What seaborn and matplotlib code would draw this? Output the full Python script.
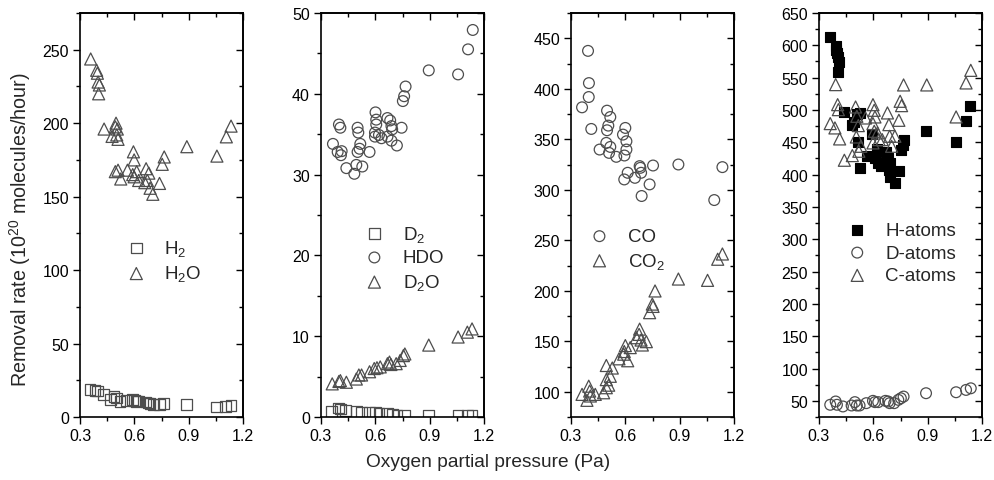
import numpy as np
import pandas as pd
import matplotlib
matplotlib.use("Agg")
import matplotlib.pyplot as plt
from matplotlib.ticker import MultipleLocator, NullFormatter
import seaborn as sns

# ---------------- data ----------------
# Panel 1
h2o_x = [0.359, 0.392, 0.396, 0.40, 0.407, 0.403, 0.433, 0.499, 0.495, 0.506, 0.477, 0.503, 0.51,
         0.495, 0.51, 0.525, 0.562, 0.595, 0.599, 0.591, 0.599, 0.613, 0.624, 0.665, 0.68, 0.672,
         0.658, 0.687, 0.702, 0.739, 0.765, 0.754, 0.89, 1.056, 1.108, 1.134]
h2o_y = [243.7, 236, 234, 228, 226, 220, 196, 200, 197.5, 196, 191, 192, 189,
         167, 168, 162, 168, 180.5, 175, 165, 163.5, 167, 161, 169, 166, 161,
         159.5, 155.7, 151.6, 159, 177, 172, 184, 177.6, 190.7, 198]
h2_x = [0.355, 0.383, 0.396, 0.43, 0.47, 0.488, 0.5, 0.521, 0.555, 0.59, 0.602, 0.613, 0.624,
        0.665, 0.676, 0.687, 0.706, 0.739, 0.761, 0.89, 1.053, 1.104, 1.134]
h2_y = [18.6, 18.2, 17.7, 15.5, 11.8, 14, 13, 10.7, 11.4, 11.8, 11.4, 10.7, 10.9,
        10.2, 9.5, 9.1, 8.4, 8.6, 9.1, 8.6, 6.8, 7.3, 8.0]

# Panel 2
hdo_x = [0.366, 0.399, 0.407, 0.392, 0.414, 0.41, 0.44, 0.484, 0.495, 0.528, 0.502, 0.506, 0.517,
         0.513, 0.502, 0.568, 0.601, 0.605, 0.605, 0.598, 0.598, 0.62, 0.634, 0.667, 0.682, 0.689,
         0.693, 0.667, 0.689, 0.719, 0.745, 0.752, 0.759, 0.767, 0.895, 1.057, 1.112, 1.138]
hdo_y = [33.8, 36.2, 35.8, 32.8, 32.9, 32.4, 30.8, 30.1, 31.2, 31.0, 35.8, 35.2, 33.8,
         33.2, 32.8, 32.8, 37.7, 36.8, 36.2, 35.2, 34.7, 34.9, 34.5, 37.0, 36.7, 36.0,
         35.6, 34.7, 34.2, 33.6, 35.8, 39.1, 39.7, 40.9, 42.9, 42.4, 45.5, 47.9]
d2o_x = [0.362, 0.399, 0.407, 0.44, 0.495, 0.509, 0.524, 0.568, 0.594, 0.609, 0.627, 0.667, 0.678,
         0.686, 0.715, 0.737, 0.755, 0.763, 0.895, 1.057, 1.108, 1.134]
d2o_y = [4.1, 4.4, 4.5, 4.3, 4.7, 5.2, 5.2, 5.6, 6.0, 6.1, 6.2, 6.6, 6.8,
         6.5, 6.6, 7.0, 7.6, 7.8, 8.9, 9.9, 10.5, 10.9]
d2_x = [0.359, 0.396, 0.407, 0.436, 0.495, 0.524, 0.568, 0.601, 0.62, 0.667, 0.693, 0.719, 0.759,
        0.895, 1.057, 1.108, 1.134]
d2_y = [0.7, 1.1, 1.0, 0.8, 0.7, 0.6, 0.6, 0.6, 0.5, 0.4, 0.3, 0.2, 0.2,
        0.2, 0.2, 0.2, 0.2]

# Panel 3
co_x = [0.394, 0.399, 0.398, 0.361, 0.412, 0.458, 0.499, 0.517, 0.506, 0.499, 0.495, 0.517, 0.51,
        0.55, 0.60, 0.587, 0.606, 0.606, 0.595, 0.613, 0.594, 0.653, 0.679, 0.687, 0.683, 0.69,
        0.734, 0.753, 0.893, 1.091, 1.136]
co_y = [437.5, 405.6, 391.8, 381.6, 360.2, 339.8, 378.3, 372, 363.5, 358.9, 346.4, 342.4, 336.5,
        332.6, 361.2, 354.6, 348, 339.8, 333.9, 316.8, 310.2, 311.8, 323.4, 316.8, 321.7, 293.8,
        305.3, 324, 325, 289.8, 322.4]
co2_x = [0.361, 0.398, 0.388, 0.407, 0.403, 0.434, 0.48, 0.495, 0.508, 0.495, 0.517, 0.495, 0.528,
         0.565, 0.613, 0.591, 0.60, 0.594, 0.627, 0.661, 0.679, 0.676, 0.687, 0.694, 0.716, 0.734,
         0.749, 0.753, 0.764, 0.893, 1.054, 1.11, 1.136]
co2_y = [97.4, 105.5, 91.5, 95.8, 100.7, 97.4, 99, 104, 106.5, 112, 115.3, 126, 123.5,
         132.6, 130.7, 137.2, 145.7, 139.8, 143.7, 153.5, 162, 156.8, 151.2, 146.3, 149.6, 178.3,
         186.8, 184.5, 199.8, 211.6, 210.3, 231.2, 236.4]

# Panel 4
hat_x = [0.362, 0.392, 0.396, 0.399, 0.403, 0.41, 0.407, 0.436, 0.48, 0.495, 0.509, 0.524, 0.517,
         0.528, 0.564, 0.609, 0.594, 0.62, 0.627, 0.645, 0.671, 0.682, 0.69, 0.686, 0.693, 0.717,
         0.741, 0.754, 0.763, 0.767, 0.891, 1.057, 1.112, 1.134]
hat_y = [612.4, 598.5, 593.3, 588.1, 582, 573.7, 558.2, 497, 477.3, 481, 493.8, 495.4, 450,
         410.3, 428.4, 425.8, 463.4, 439.7, 418, 412.9, 434.5, 425.8, 418, 406.7, 396.4, 387.1,
         405.2, 438.7, 446.4, 453.1, 467, 450, 483.5, 505.7]
dat_x = [0.362, 0.392, 0.399, 0.432, 0.48, 0.498, 0.509, 0.524, 0.561, 0.598, 0.609, 0.627, 0.667,
         0.682, 0.69, 0.715, 0.738, 0.752, 0.767, 0.891, 1.057, 1.112, 1.138]
dat_y = [43.9, 49, 43.9, 41.3, 42.8, 48, 42.8, 42.8, 46.4, 50, 48, 48, 50,
         49, 46.4, 46.4, 51.5, 54, 56.6, 61.8, 63.3, 66.9, 69.4]
cat_x = [0.362, 0.388, 0.392, 0.403, 0.407, 0.414, 0.44, 0.484, 0.502, 0.509, 0.517, 0.506, 0.531,
         0.52, 0.557, 0.598, 0.605, 0.609, 0.598, 0.605, 0.598, 0.623, 0.631, 0.649, 0.678, 0.686,
         0.69, 0.701, 0.719, 0.741, 0.748, 0.756, 0.767, 0.895, 1.057, 1.112, 1.138]
cat_y = [478.9, 472.2, 539.2, 508.2, 500.5, 455.2, 422.2, 429.4, 504.6, 490.2, 475.8, 458.2, 443.8,
         436.1, 487.6, 508.2, 499.5, 489.2, 478.9, 467, 449, 464.4, 454.1, 454.1, 495.4, 477.3,
         459.3, 443.8, 459.3, 484, 513.4, 506.7, 538.7, 538.7, 489.2, 541.8, 561.3]

x_ticks = [0.3, 0.6, 0.9, 1.2]
ylims = [(0, 275), (0, 50), (75, 475), (25, 650)]
y_major = [50, 10, 50, 50]
y_minor = [25, 5, 25, 25]

# ---------------- style ----------------
sns.set_theme(style="ticks")
plt.rcParams["font.family"] = ["Liberation Sans", "DejaVu Sans"]
plt.rcParams["mathtext.fontset"] = "custom"
plt.rcParams["mathtext.rm"] = "Liberation Sans"
plt.rcParams["mathtext.it"] = "Liberation Sans"
plt.rcParams["mathtext.bf"] = "Liberation Sans"

EDGE = "#4d4d4d"
fig = plt.figure(figsize=(9.94, 4.81), dpi=100)

lefts = [80, 321, 571, 819]
W, BOT, TOP = 163, 418, 14
axes = []
for l in lefts:
    ax = fig.add_axes([l / 994, 1 - BOT / 481, W / 994, (BOT - TOP) / 481])
    axes.append(ax)

def scat(ax, x, y, marker, label, filled=False, s=60):
    df = pd.DataFrame({"x": x, "y": y})
    if filled:
        sns.scatterplot(data=df, x="x", y="y", marker=marker, s=s, color="black",
                        edgecolor="black", linewidth=0.8, ax=ax, label=label)
    else:
        sns.scatterplot(data=df, x="x", y="y", marker=marker, s=s, facecolor="none",
                        edgecolor=EDGE, linewidth=0.9, ax=ax, label=label)

scat(axes[0], h2_x, h2_y, "s", "H$_2$")
scat(axes[0], h2o_x, h2o_y, "^", "H$_2$O", s=75)

scat(axes[1], d2_x, d2_y, "s", "D$_2$")
scat(axes[1], hdo_x, hdo_y, "o", "HDO")
scat(axes[1], d2o_x, d2o_y, "^", "D$_2$O", s=75)

scat(axes[2], co_x, co_y, "o", "CO")
scat(axes[2], co2_x, co2_y, "^", "CO$_2$", s=75)

scat(axes[3], hat_x, hat_y, "s", "H-atoms", filled=True)
scat(axes[3], dat_x, dat_y, "o", "D-atoms")
scat(axes[3], cat_x, cat_y, "^", "C-atoms", s=75)

leg_pos = [(0.288, 0.387), (0.27, 0.394), (0.117, 0.415), (0.177, 0.406)]

def style_ticks(a, direction):
    a.tick_params(which="both", direction=direction, width=1.0, colors="black")
    a.tick_params(which="major", length=5)
    a.tick_params(which="minor", length=3)

for i, ax in enumerate(axes):
    ax.set_xlim(0.3, 1.2)
    ax.set_ylim(*ylims[i])
    ax.set_xticks(x_ticks)
    ax.set_xticklabels([f"{t:.1f}" for t in x_ticks])
    ax.xaxis.set_minor_locator(MultipleLocator(0.15))
    ax.yaxis.set_major_locator(MultipleLocator(y_major[i]))
    ax.yaxis.set_minor_locator(MultipleLocator(y_minor[i]))
    ax.set_ylim(*ylims[i])
    ax.set_xlabel("")
    ax.set_ylabel("")
    style_ticks(ax, "out")
    ax.tick_params(labelsize=11.5, pad=3)
    # inward ticks on top and right
    top = ax.secondary_xaxis("top")
    top.set_xticks(x_ticks)
    top.xaxis.set_minor_locator(MultipleLocator(0.15))
    top.xaxis.set_major_formatter(NullFormatter())
    style_ticks(top, "in")
    right = ax.secondary_yaxis("right")
    right.yaxis.set_major_locator(MultipleLocator(y_major[i]))
    right.yaxis.set_minor_locator(MultipleLocator(y_minor[i]))
    right.yaxis.set_major_formatter(NullFormatter())
    style_ticks(right, "in")
    for a in (ax, top, right):
        for sp in a.spines.values():
            sp.set_linewidth(1.2)
            sp.set_color("black")
    ax.legend(loc="center left", bbox_to_anchor=leg_pos[i], frameon=False,
              fontsize=13.5, handlelength=1.0, handletextpad=1.0,
              labelspacing=0.3, borderpad=0, borderaxespad=0)

fig.text(488 / 994, 1 - 463 / 481, "Oxygen partial pressure (Pa)", ha="center",
         va="center", fontsize=13.8)
fig.text(20 / 994, 1 - 230 / 481, "Removal rate (10$^{20}$ molecules/hour)", ha="center",
         va="center", rotation=90, fontsize=14.2)

fig.savefig("out.png", dpi=100)
